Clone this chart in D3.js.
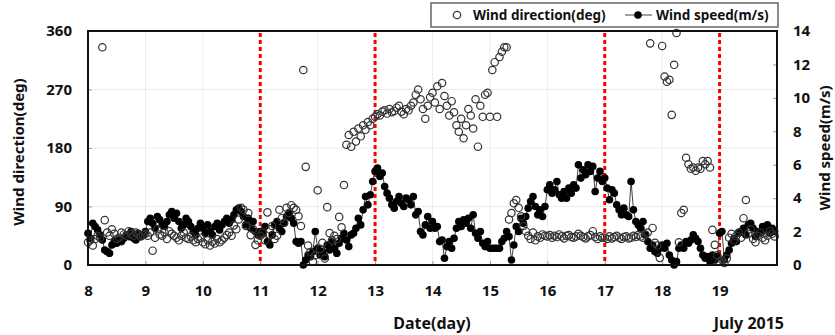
<!DOCTYPE html>
<html>
<head>
<meta charset="utf-8">
<script src="https://cdn.jsdelivr.net/npm/d3@7"></script>
<style>
  body { margin: 0; background: #fff; }
  svg text { font-family: "Noto Sans", "DejaVu Sans", sans-serif; font-weight: bold; fill: #111; }
</style>
</head>
<body>
<div id="container"></div>
<script>
// hourly samples starting 8 July 00:00
var startDay = 8;
var dayTicks = [8, 9, 10, 11, 12, 13, 14, 15, 16, 17, 18, 19];
var dirTicks = [0, 90, 180, 270, 360];
var speedTicks = [0, 2, 4, 6, 8, 10, 12, 14];
var eventDays = [11, 13, 17, 19];

var windSpeed = [
  // 8
  1.9, 1.6, 2.5, 2.3, 2.1, 1.8, 1.5, 0.9, 0.8, 0.7, 1.2, 1.4, 1.3, 1.5, 1.4, 1.6, 1.8, 1.7, 2.0, 1.6, 1.5, 1.9, 1.7, 1.8,
  // 9
  2.0, 2.6, 2.8, 2.5, 2.2, 2.9, 2.7, 2.4, 2.3, 2.6, 3.0, 3.2, 2.8, 3.1, 2.6, 2.2, 2.4, 2.8, 2.6, 2.3, 2.0, 1.8, 2.2, 2.5,
  // 10
  2.2, 1.9, 2.4, 2.0, 1.8, 2.3, 2.5, 2.1, 2.4, 2.6, 2.8, 2.5, 2.7, 3.0, 3.3, 3.4, 3.2, 2.9, 2.4, 2.8, 2.2, 2.6, 2.0, 1.8,
  // 11
  2.0, 1.9, 2.3, 1.4, 1.2, 1.8, 2.4, 2.6, 2.2, 2.0, 2.5, 2.9, 3.1, 2.8, 2.5, 1.4, 1.3, 1.4, 0.0, 0.3, 0.6, 0.5, 0.8, 2.0,
  // 12
  1.0, 0.6, 0.8, 0.5, 1.2, 0.9, 1.4, 1.0, 0.7, 1.3, 1.6, 1.9, 1.5, 1.1, 1.8, 1.9, 2.2, 2.8, 2.4, 3.3, 4.1, 3.6, 4.2, 5.0,
  // 13
  5.6, 5.8, 5.3, 5.5, 4.7, 4.3, 4.0, 3.6, 3.4, 3.8, 4.1, 3.7, 3.5, 4.0, 3.9, 3.6, 4.1, 3.0, 3.2, 2.0, 1.8, 2.4, 2.9, 2.2,
  // 14
  2.6, 2.2, 2.3, 1.4, 1.5, 0.4, 1.1, 1.4, 1.0, 1.6, 2.2, 2.6, 2.3, 2.7, 2.5, 2.8, 2.2, 3.0, 1.9, 1.6, 2.0, 1.3, 1.1, 1.4,
  // 15
  1.0, 1.0, 1.0, 1.0, 1.0, 1.4, 1.6, 2.0, 1.7, 0.3, 1.2, 2.3, 2.0, 2.8, 2.5, 2.9, 3.4, 3.8, 4.1, 3.5, 3.0, 3.3, 2.9, 3.5,
  // 16
  4.5, 4.8, 4.3, 4.5, 5.0, 4.2, 4.0, 4.4, 4.0, 4.6, 4.3, 4.8, 4.6, 6.0, 5.2, 5.7, 5.4, 6.0, 5.6, 5.9, 4.4, 5.2, 5.6, 5.0,
  // 17
  5.2, 4.6, 3.9, 4.5, 4.3, 3.6, 3.3, 3.0, 3.4, 3.0, 2.9, 5.0, 3.3, 2.6, 2.4, 2.2, 2.6, 1.8, 1.4, 1.0, 1.2, 0.8, 0.7, 1.0,
  // 18
  1.2, 1.0, 1.3, 0.6, 0.3, 0.0, 0.2, 1.0, 1.2, 1.0, 1.4, 1.3, 1.5, 1.8, 1.6, 1.4, 1.0, 0.6, 0.4, 0.5, 0.2, 0.6, 0.3, 0.5,
  // 19
  1.9, 2.0, 0.3, 0.6, 0.9, 1.3, 1.6, 1.4, 1.9, 2.0, 2.2, 1.8, 2.4, 2.5, 2.2, 1.7, 2.0, 1.9, 2.3, 2.1, 2.4, 1.9, 2.2, 2.0
];

var windDir = [
  // 8
  35, 38, 30, 40, 45, 42, 335, 69, 50, 45, 55, 48, 40, 42, 50, 47, 45, 52, 48, 45, 50, 47, 44, 46,
  // 9
  48, 45, 50, 22, 42, 55, 47, 45, 50, 40, 52, 48, 45, 42, 38, 45, 50, 42, 40, 44, 38, 35, 40, 42,
  // 10
  35, 32, 38, 30, 36, 33, 40, 35, 38, 42, 46, 50, 45, 61, 55, 70, 88, 85, 60, 80, 46, 55, 31, 38,
  // 11
  45, 50, 38, 81, 55, 60, 40, 45, 85, 72, 65, 88, 80, 92, 88, 85, 75, 60, 300, 151, 30, 20, 5, 15,
  // 12
  115, 25, 34, 10, 89, 49, 38, 45, 40, 74, 58, 123, 185, 200, 182, 205, 190, 210, 198, 215, 208, 220, 215, 225,
  // 13
  228, 232, 230, 236, 238, 233, 240, 235, 237, 242, 245, 236, 232, 240, 238, 245, 250, 262, 270, 255, 240, 225, 245, 258,
  // 14
  265, 250, 275, 240, 280, 260, 245, 230, 252, 235, 215, 205, 225, 195, 215, 240, 230, 210, 255, 182, 245, 228, 262, 265,
  // 15
  228, 300, 312, 228, 320, 328, 335, 335, 70, 80, 95, 100, 88, 75, 60, 52, 45, 40, 50, 38, 44, 42, 47, 45,
  // 16
  44, 46, 42, 45, 43, 47, 44, 41, 45, 46, 43, 42, 44, 48, 45, 43, 41, 44, 46, 52, 43, 40, 44, 42,
  // 17
  42, 40, 44, 41, 43, 45, 42, 40, 43, 44, 41, 42, 45, 43, 46, 44, 42, 47, 50, 341, 57, 34, 30, 11,
  // 18
  337, 290, 282, 285, 231, 308, 357, 35, 80, 85, 165, 155, 148, 150, 145, 150, 148, 160, 155, 160, 150, 54, 31, 15,
  // 19
  5, 8, 3, 10, 42, 48, 38, 45, 50, 42, 72, 100, 48, 55, 40, 35, 45, 50, 42, 38, 45, 52, 48, 44
];

var width = 835, height = 335;
var margin = { left: 88, right: 58, top: 31, bottom: 70 };
var x0 = margin.left, x1 = width - margin.right;
var y0 = height - margin.bottom, y1 = margin.top;

var svg = d3.select('#container').append('svg')
  .attr('width', width).attr('height', height);

var x = d3.scaleLinear().domain([8, 20]).range([x0, x1]);
var yDir = d3.scaleLinear().domain([0, 360]).range([y0, y1]);
var ySpd = d3.scaleLinear().domain([0, 14]).range([y0, y1]);

function tAt(i) { return startDay + i / 24; }

// grid
var grid = svg.append('g').attr('class', 'grid');
grid.selectAll('line.v').data(dayTicks.slice(1).concat([20]))
  .enter().append('line')
  .attr('x1', function (d) { return x(d); }).attr('x2', function (d) { return x(d); })
  .attr('y1', y0).attr('y2', y1)
  .attr('stroke', '#ececec').attr('stroke-width', 1);
grid.selectAll('line.h').data(dirTicks.slice(1, -1))
  .enter().append('line')
  .attr('x1', x0).attr('x2', x1)
  .attr('y1', function (d) { return yDir(d); }).attr('y2', function (d) { return yDir(d); })
  .attr('stroke', '#ececec').attr('stroke-width', 1);

// axes (inward ticks)
var axisLeft = svg.append('g').attr('transform', 'translate(' + x0 + ',0)')
  .call(d3.axisLeft(yDir).tickValues(dirTicks).tickSize(-4).tickPadding(16));
var axisRight = svg.append('g').attr('transform', 'translate(' + x1 + ',0)')
  .call(d3.axisRight(ySpd).tickValues(speedTicks).tickSize(-4).tickPadding(16));
var axisBottom = svg.append('g').attr('transform', 'translate(0,' + y0 + ')')
  .call(d3.axisBottom(x).tickValues(dayTicks).tickSize(-4).tickPadding(20));

[axisLeft, axisRight, axisBottom].forEach(function (a) {
  a.select('.domain').remove();
  a.selectAll('.tick line').attr('stroke', '#999');
  a.selectAll('.tick text').style('font-size', '15px').attr('fill', '#111');
});

// event markers
svg.selectAll('line.event').data(eventDays)
  .enter().append('line')
  .attr('class', 'event')
  .attr('x1', function (d) { return x(d); }).attr('x2', function (d) { return x(d); })
  .attr('y1', y1 + 2).attr('y2', y0)
  .attr('stroke', '#f00').attr('stroke-width', 3)
  .attr('stroke-dasharray', '4,3');

// wind speed line + dots
var line = d3.line()
  .x(function (d, i) { return x(tAt(i)); })
  .y(function (d) { return ySpd(d); });
svg.append('path').datum(windSpeed)
  .attr('d', line)
  .attr('fill', 'none').attr('stroke', '#444').attr('stroke-width', 1);
svg.append('g').selectAll('circle').data(windSpeed)
  .enter().append('circle')
  .attr('cx', function (d, i) { return x(tAt(i)); })
  .attr('cy', function (d) { return ySpd(d); })
  .attr('r', 3.8)
  .attr('fill', '#000');

// wind direction open circles
svg.append('g').selectAll('circle').data(windDir)
  .enter().append('circle')
  .attr('cx', function (d, i) { return x(tAt(i)); })
  .attr('cy', function (d) { return yDir(d); })
  .attr('r', 3.7)
  .attr('fill', 'none').attr('stroke', '#333').attr('stroke-width', 1.2);

// frame
svg.append('rect')
  .attr('x', x0).attr('y', y1).attr('width', x1 - x0).attr('height', y0 - y1)
  .attr('fill', 'none').attr('stroke', '#111').attr('stroke-width', 2);

// axis titles
svg.append('text')
  .attr('transform', 'translate(24,' + ((y0 + y1) / 2 + 4) + ') rotate(-90)')
  .attr('text-anchor', 'middle').style('font-size', '15px')
  .text('Wind direction(deg)');
svg.append('text')
  .attr('transform', 'translate(830,' + ((y0 + y1) / 2) + ') rotate(-90)')
  .attr('text-anchor', 'middle').style('font-size', '15px')
  .text('Wind speed(m/s)');
svg.append('text')
  .attr('x', 432).attr('y', 329)
  .attr('text-anchor', 'middle').style('font-size', '16px')
  .text('Date(day)');
svg.append('text')
  .attr('x', 784).attr('y', 329)
  .attr('text-anchor', 'end').style('font-size', '16px')
  .text('July 2015');

// legend
var legend = svg.append('g');
legend.append('rect')
  .attr('x', 431).attr('y', 3).attr('width', 347).attr('height', 24)
  .attr('fill', '#fff').attr('stroke', '#666').attr('stroke-width', 1.5);
legend.append('circle')
  .attr('cx', 457).attr('cy', 15).attr('r', 3.7)
  .attr('fill', 'none').attr('stroke', '#333').attr('stroke-width', 1.2);
legend.append('text')
  .attr('x', 473).attr('y', 20).style('font-size', '13.5px')
  .text('Wind direction(deg)');
legend.append('line')
  .attr('x1', 625).attr('x2', 652).attr('y1', 15).attr('y2', 15)
  .attr('stroke', '#444').attr('stroke-width', 1);
legend.append('circle')
  .attr('cx', 638).attr('cy', 15).attr('r', 3.8).attr('fill', '#000');
legend.append('text')
  .attr('x', 656).attr('y', 20).style('font-size', '13.5px')
  .text('Wind speed(m/s)');
</script>
</body>
</html>
